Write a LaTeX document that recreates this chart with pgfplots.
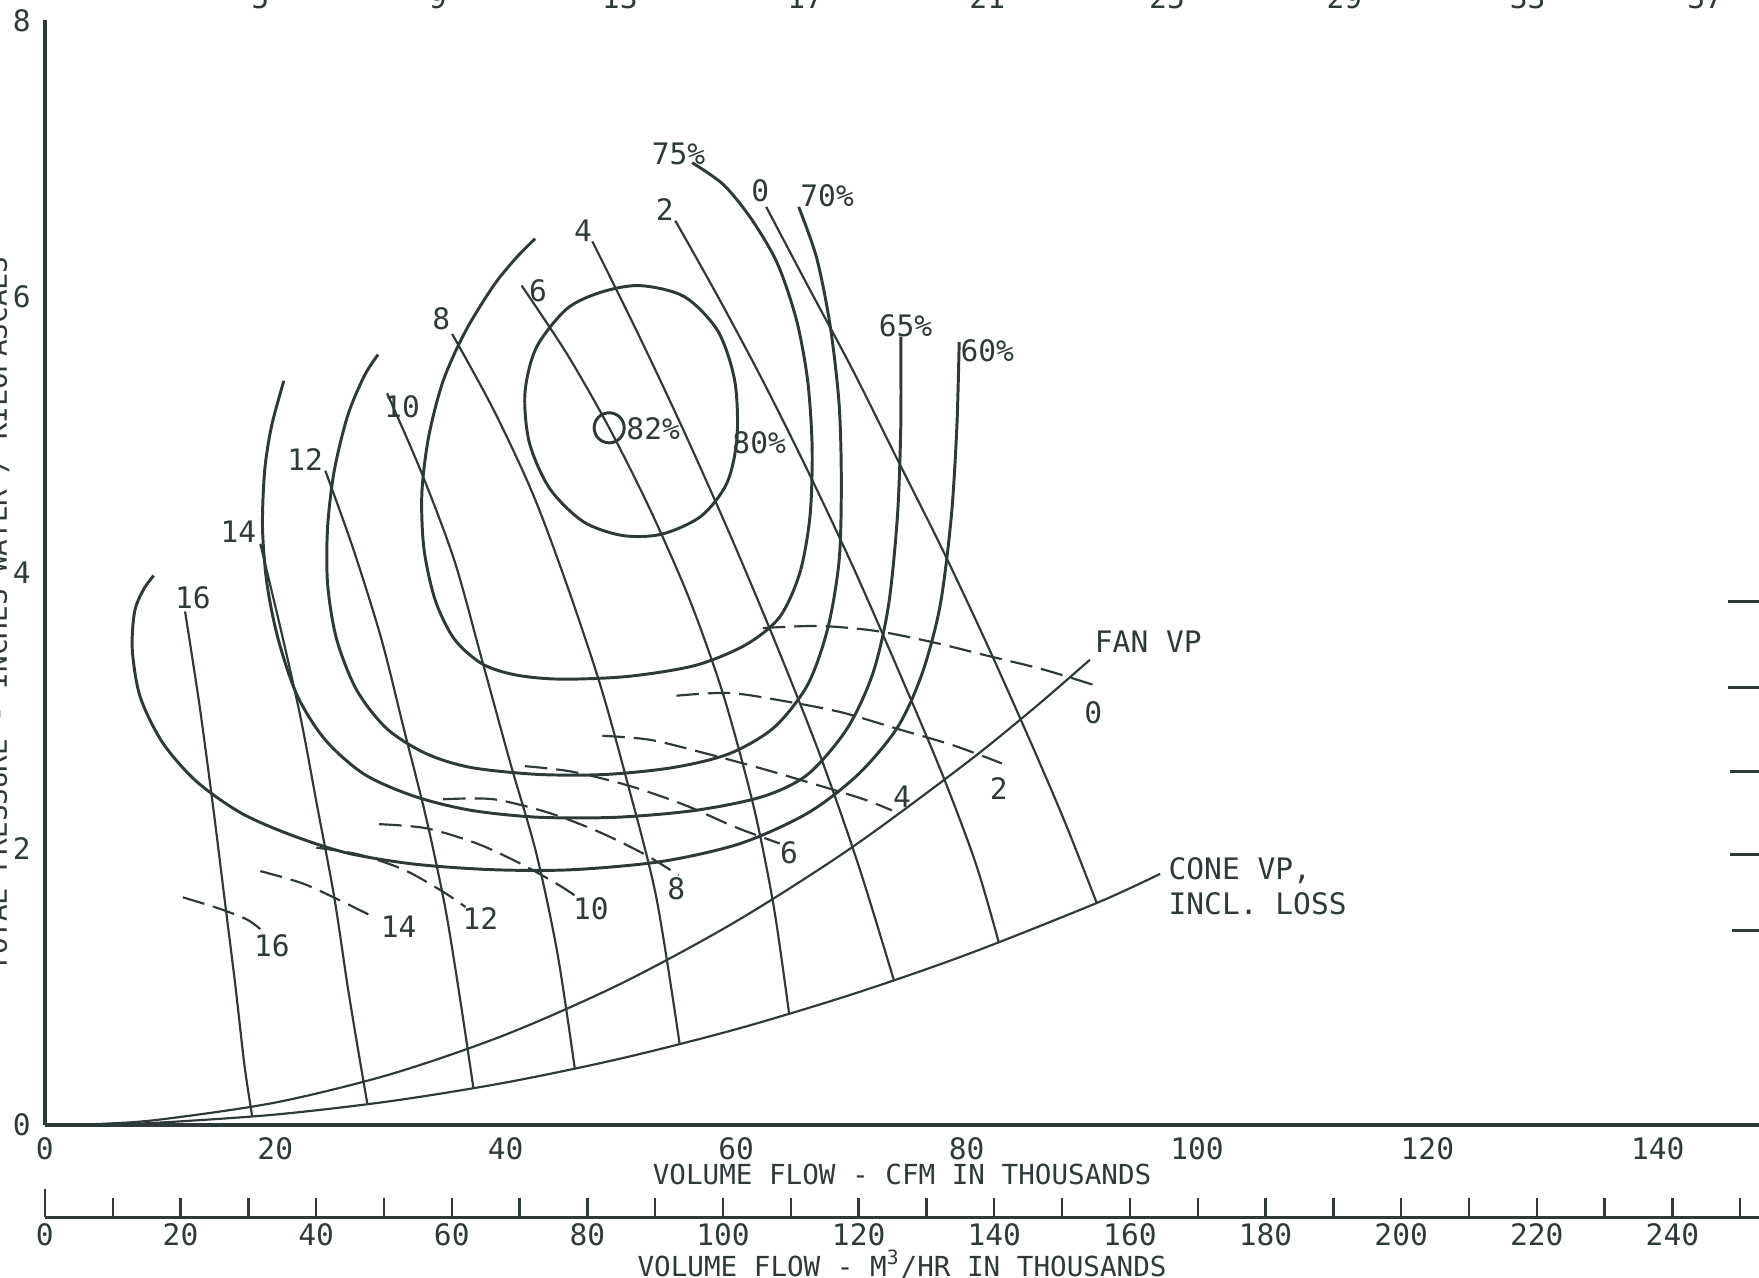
\documentclass[border=0pt]{standalone}
\usepackage{fontspec}
\setmainfont{DejaVu Sans Mono}
\usepackage{pgfplots}
\pgfplotsset{compat=1.18}
\definecolor{ink}{HTML}{2E3A3A}

\pgfplotsset{
  eff/.style={ink, line width=0.75pt, smooth, mark=none},
  rad/.style={ink, line width=0.55pt, smooth, mark=none},
  vpd/.style={ink, line width=0.55pt, smooth, mark=none, dash pattern=on 2mm off 0.8mm},
}
\tikzset{lbl/.style={ink, font=\fontsize{7.5}{9}\selectfont, inner sep=0.5pt}}

\begin{document}
\begin{tikzpicture}
\begin{axis}[
    at={(0,0)}, anchor=origin,
    x=1.027mm, y=12.31mm,
    xmin=0, xmax=148.8, ymin=0, ymax=8,
    axis x line=bottom, axis y line=left,
    axis line style={-, line width=0.9pt, ink},
    xtick={0,20,...,140}, ytick={0,2,...,8},
    major tick length=0pt,
    /pgf/number format/assume math mode=true,
    tick label style={ink, font=\fontsize{7.5}{9}\selectfont},
    xticklabel style={anchor=north, inner sep=0pt, yshift=-1mm},
    yticklabel style={anchor=east, inner sep=0pt, xshift=-1.2mm},
    xlabel={VOLUME FLOW - CFM IN THOUSANDS},
    xlabel style={ink, font=\fontsize{7}{8}\selectfont, at={(axis description cs:0.5,0)}, anchor=center, yshift=-4.4mm},
    clip=false,
]
% efficiency contours
\addplot[eff] coordinates {(56.18,6.97) (58.91,6.81) (61.34,6.56) (63.58,6.24) (65.24,5.83) (66.21,5.39) (66.60,4.90) (66.41,4.41) (65.53,4.00) (63.78,3.68) (60.86,3.48) (56.48,3.33) (50.63,3.25) (44.79,3.23) (40.90,3.26) (37.97,3.34) (35.54,3.52) (33.89,3.80) (32.91,4.17) (32.72,4.57) (33.30,4.98) (34.57,5.39) (36.51,5.75) (38.95,6.08) (40.90,6.28) (42.55,6.42)};
\addplot[eff] coordinates {(65.43,6.65) (66.99,6.28) (68.16,5.79) (68.94,5.22) (69.13,4.65) (68.94,4.09) (67.96,3.60) (66.21,3.19) (63.29,2.88) (59.40,2.69) (54.53,2.59) (48.69,2.54) (42.84,2.54) (37.00,2.59) (33.11,2.69) (29.70,2.87) (27.07,3.15) (25.32,3.52) (24.54,3.92) (24.54,4.33) (25.12,4.74) (26.29,5.14) (27.75,5.43) (28.92,5.58)};
\addplot[eff] coordinates {(74.29,5.71) (74.29,5.06) (74.00,4.41) (73.22,3.76) (71.86,3.27) (69.62,2.87) (66.21,2.54) (62.32,2.38) (56.48,2.28) (49.66,2.23) (42.84,2.23) (37.00,2.28) (32.13,2.38) (27.75,2.54) (24.34,2.79) (21.91,3.11) (20.25,3.52) (19.28,3.92) (18.89,4.33) (19.08,4.74) (19.67,5.06) (20.74,5.39)};
\addplot[eff] coordinates {(79.36,5.67) (79.16,5.06) (78.68,4.41) (77.70,3.76) (76.14,3.27) (74.00,2.88) (70.59,2.54) (66.21,2.26) (60.37,2.04) (53.55,1.91) (45.76,1.85) (38.95,1.85) (32.13,1.89) (26.29,1.97) (21.42,2.10) (17.04,2.26) (13.15,2.49) (10.22,2.77) (8.28,3.10) (7.59,3.44) (7.79,3.72) (8.57,3.88) (9.44,3.98)};
\addplot[eff, smooth cycle] coordinates {(51.61,6.08) (55.50,6.00) (58.42,5.75) (59.88,5.39) (60.08,4.98) (59.20,4.65) (56.96,4.41) (53.55,4.28) (50.15,4.27) (46.74,4.37) (43.82,4.61) (42.06,4.94) (41.67,5.30) (42.65,5.63) (45.28,5.91) (48.20,6.03)};
\addplot[ink, only marks, mark=o, mark size=1.34mm, mark options={line width=0.75pt}] coordinates {(48.98,5.05)};

% constant lines 0..16
\addplot[rad] coordinates {(62.61,6.65) (66.21,6.08) (70.11,5.47) (74.00,4.82) (77.90,4.17) (81.79,3.48) (85.69,2.75) (88.61,2.18) (91.3,1.609)};
\addplot[rad] coordinates {(54.72,6.55) (58.42,6.00) (62.32,5.39) (66.21,4.74) (70.11,4.05) (74.00,3.31) (77.90,2.54) (80.82,1.89) (82.8,1.323)};
\addplot[rad] coordinates {(47.52,6.40) (51.61,5.71) (55.50,5.02) (59.40,4.29) (63.29,3.52) (67.19,2.70) (70.59,1.89) (73.7,1.048)};
\addplot[rad] coordinates {(41.38,6.08) (45.28,5.59) (48.98,5.05) (52.58,4.45) (55.99,3.80) (58.91,3.11) (61.54,2.30) (63.29,1.57) (64.6,0.805)};
\addplot[rad] coordinates {(35.35,5.73) (38.95,5.18) (42.36,4.57) (45.28,3.92) (48.20,3.19) (50.63,2.46) (53.07,1.65) (55.1,0.586)};
\addplot[rad] coordinates {(29.70,5.30) (32.62,4.74) (35.54,4.09) (37.97,3.36) (40.41,2.62) (42.65,1.97) (44.50,1.24) (46.0,0.408)};
\addplot[rad] coordinates {(24.34,4.74) (26.78,4.17) (29.21,3.52) (31.16,2.87) (33.11,2.22) (34.76,1.57) (36.03,0.92) (37.2,0.267)};
\addplot[rad] coordinates {(18.70,4.21) (20.45,3.60) (22.20,2.95) (23.66,2.30) (25.12,1.65) (26.29,1.00) (27.26,0.51) (28.0,0.151)};
\addplot[rad] coordinates {(12.17,3.72) (13.44,3.03) (14.61,2.30) (15.58,1.65) (16.55,1.00) (17.33,0.43) (18.0,0.062)};

% fan VP and cone VP
\addplot[rad] coordinates {(0,0) (5,0.010) (10,0.041) (20,0.164) (30,0.369) (40,0.656) (50,1.025) (60,1.476) (70,2.009) (80,2.624) (86,3.03) (90.7,3.37)};
\addplot[rad] coordinates {(0,0) (5,0.005) (10,0.019) (20,0.077) (30,0.174) (40,0.309) (50,0.483) (60,0.695) (70,0.946) (80,1.235) (91.3,1.609) (96.8,1.82)};

% dashed lines
\addplot[vpd] coordinates {(62.32,3.60) (67.19,3.615) (72.06,3.58) (76.92,3.50) (81.79,3.40) (86.66,3.30) (91.33,3.18)};
\addplot[vpd] coordinates {(54.82,3.11) (59.40,3.13) (64.26,3.07) (69.13,2.99) (74.00,2.87) (78.87,2.75) (83.06,2.62)};
\addplot[vpd] coordinates {(48.39,2.82) (52.58,2.79) (57.45,2.69) (62.32,2.58) (67.19,2.46) (71.08,2.36) (73.52,2.28)};
\addplot[vpd] coordinates {(41.67,2.60) (45.76,2.56) (50.63,2.46) (55.50,2.32) (59.88,2.16) (63.78,2.04)};
\addplot[vpd] coordinates {(34.57,2.36) (38.95,2.36) (43.82,2.26) (48.20,2.12) (52.09,1.96) (55.01,1.81)};
\addplot[vpd] coordinates {(29.02,2.18) (33.11,2.15) (37.49,2.04) (41.38,1.89) (44.79,1.73) (46.74,1.62)};
\addplot[vpd] coordinates {(23.56,2.01) (27.26,1.96) (31.16,1.85) (34.57,1.69) (36.51,1.58)};
\addplot[vpd] coordinates {(18.70,1.84) (22.40,1.75) (25.80,1.62) (28.72,1.50)};
\addplot[vpd] coordinates {(11.98,1.65) (15.09,1.57) (17.53,1.49) (18.70,1.42)};

% ticks of a scale cut off at the right edge
\addplot[ink, line width=0.8pt, mark=none] table {
x y
146.1 3.79
148.8 3.79

146.1 3.17
148.8 3.17

146.3 2.56
148.8 2.56

146.3 1.96
148.8 1.96

146.4 1.41
148.8 1.41
};

% labels
\node[lbl] at (axis cs:55.0,7.03) {75\%};
\node[lbl] at (axis cs:67.9,6.73) {70\%};
\node[lbl] at (axis cs:74.7,5.79) {65\%};
\node[lbl] at (axis cs:81.8,5.61) {60\%};
\node[lbl] at (axis cs:62.0,4.94) {80\%};
\node[lbl] at (axis cs:52.8,5.04) {82\%};
\node[lbl] at (axis cs:62.1,6.77) {0};
\node[lbl] at (axis cs:53.8,6.63) {2};
\node[lbl] at (axis cs:46.7,6.48) {4};
\node[lbl] at (axis cs:42.8,6.04) {6};
\node[lbl] at (axis cs:34.4,5.84) {8};
\node[lbl] at (axis cs:31.0,5.20) {10};
\node[lbl] at (axis cs:22.6,4.82) {12};
\node[lbl] at (axis cs:16.8,4.30) {14};
\node[lbl] at (axis cs:12.85,3.82) {16};
\node[lbl] at (axis cs:91.0,2.99) {0};
\node[lbl] at (axis cs:82.8,2.44) {2};
\node[lbl] at (axis cs:74.4,2.38) {4};
\node[lbl] at (axis cs:64.6,1.97) {6};
\node[lbl] at (axis cs:54.8,1.71) {8};
\node[lbl] at (axis cs:47.4,1.57) {10};
\node[lbl] at (axis cs:37.8,1.50) {12};
\node[lbl] at (axis cs:30.7,1.44) {14};
\node[lbl] at (axis cs:19.7,1.30) {16};
\node[lbl, anchor=west] at (axis cs:90.9,3.50) {FAN VP};
\node[lbl, anchor=west, align=left] at (axis cs:97.3,1.73) {CONE VP,\\INCL. LOSS};

% numbers of a scale cut off at the top
\node[lbl, anchor=base] at (axis cs:18.7,8.083) {5};
\node[lbl, anchor=base] at (axis cs:34.1,8.083) {9};
\node[lbl, anchor=base] at (axis cs:49.9,8.083) {13};
\node[lbl, anchor=base] at (axis cs:66.0,8.083) {17};
\node[lbl, anchor=base] at (axis cs:81.8,8.083) {21};
\node[lbl, anchor=base] at (axis cs:97.4,8.083) {25};
\node[lbl, anchor=base] at (axis cs:112.8,8.083) {29};
\node[lbl, anchor=base] at (axis cs:128.7,8.083) {33};
\node[lbl, anchor=base] at (axis cs:144.1,8.083) {37};

% y label, cut off at the left edge
\node[ink, font=\fontsize{7}{8}\selectfont, inner sep=0pt, rotate=90, anchor=base] at (axis cs:-3.3,3.7) {TOTAL PRESSURE - INCHES WATER / KILOPASCALS};
\end{axis}

\begin{axis}[
    at={(0,-8.2mm)}, anchor=origin,
    x=0.6045mm, y=1mm,
    xmin=0, xmax=252.8, ymin=0, ymax=1,
    axis x line=bottom, axis y line=none,
    axis line style={-, line width=0.8pt, ink},
    xtick={0,20,...,240}, minor xtick={10,30,...,250},
    ytick=\empty,
    xtick align=inside,
    major tick length=1.7mm, minor tick length=1.7mm,
    every tick/.style={ink, line width=0.6pt},
    extra x ticks={0}, extra x tick labels={},
    extra x tick style={major tick length=2.5mm},
    /pgf/number format/assume math mode=true,
    tick label style={ink, font=\fontsize{7.5}{9}\selectfont},
    xticklabel style={anchor=north, inner sep=0pt, yshift=-0.5mm},
    xlabel={VOLUME FLOW - M\textsuperscript{3}/HR IN THOUSANDS},
    xlabel style={ink, font=\fontsize{7}{8}\selectfont, at={(axis description cs:0.5,0)}, anchor=center, yshift=-4.2mm},
    clip=false,
]
\addplot[draw=none, mark=none] coordinates {(0,0) (250,0)};
\end{axis}
\pgfresetboundingbox
\path[use as bounding box] (-4.0mm,-13.6mm) rectangle (152.8mm,100.3mm);
\end{tikzpicture}
\end{document}
